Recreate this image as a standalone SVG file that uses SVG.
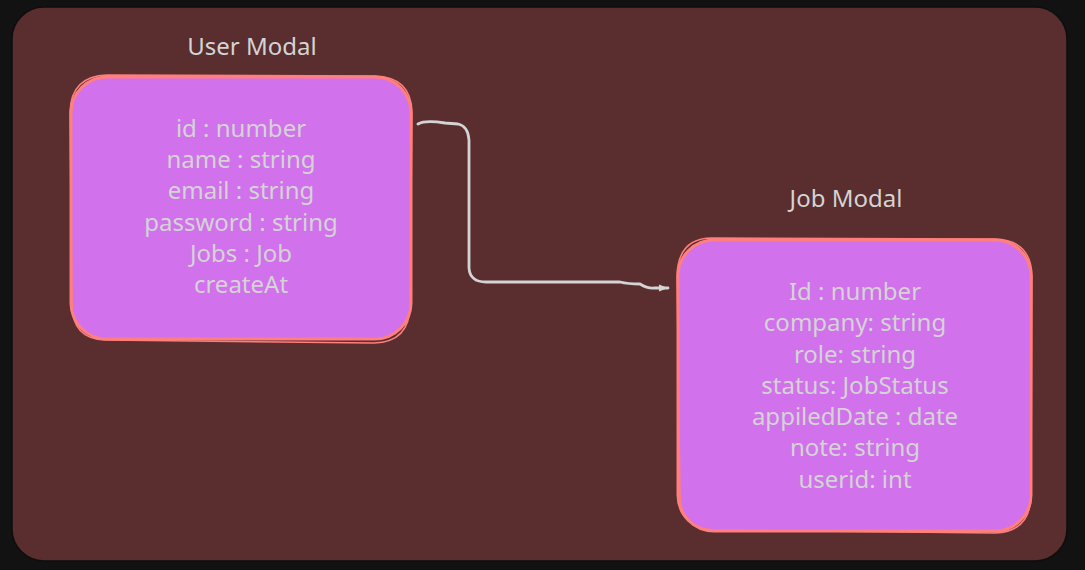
<svg xmlns="http://www.w3.org/2000/svg" width="1085" height="570" viewBox="0 0 1085 570">
<style>
.t{font-family:"Noto Sans","Open Sans",sans-serif;font-size:24px;fill:#d4d4d4;text-anchor:middle}
.box{fill:#d171ec;stroke:#ff7f7f;stroke-width:3}
.box2{fill:none;stroke:#ff7f7f;stroke-width:1.5}
.conn{fill:none;stroke:#d4d4d4;stroke-width:2.8;stroke-linecap:round;stroke-linejoin:round}
</style>
<defs>
<marker id="arr" markerWidth="10" markerHeight="8" refX="9" refY="4" orient="auto" markerUnits="userSpaceOnUse">
<path d="M0,0.5 L9,4 L0,7.5 Z" fill="#d4d4d4"/>
</marker>
</defs>
<rect x="0" y="0" width="1085" height="570" fill="#121212"/>
<g id="container">
<rect x="12" y="7" width="1055" height="554" rx="32" fill="#5a2d2e" stroke="#0e0e0e" stroke-width="1.5"/>
</g>
<g id="user-modal">
<text class="t" x="252" y="55">User Modal</text>
<rect class="box" x="71" y="77" width="340" height="262" rx="36"/>
<path class="box2" d="M107,75 L375,76 Q411,77 412,112 L410,305 Q410,342 374,343 L105,340 Q72,339 72,304 L70,112 Q71,76 107,75 Z"/>
<text class="t" x="241" y="137">id : number</text>
<text class="t" x="241" y="168">name : string</text>
<text class="t" x="241" y="199">email : string</text>
<text class="t" x="241" y="231">password : string</text>
<text class="t" x="241" y="262">Jobs : Job</text>
<text class="t" x="241" y="293">createAt</text>
</g>
<g id="job-modal">
<text class="t" x="846" y="207">Job Modal</text>
<rect class="box" x="678" y="240" width="353" height="291" rx="36"/>
<path class="box2" d="M712,238 L995,239 Q1031,240 1032,276 L1031,496 Q1030,532 995,533 L716,530 Q680,529 680,494 L677,276 Q678,238 712,238 Z"/>
<text class="t" x="855" y="300">Id : number</text>
<text class="t" x="855" y="331">company: string</text>
<text class="t" x="855" y="363">role: string</text>
<text class="t" x="855" y="394">status: JobStatus</text>
<text class="t" x="855" y="425">appiledDate : date</text>
<text class="t" x="855" y="456">note: string</text>
<text class="t" x="855" y="488">userid: int</text>
</g>
<g id="connectors">
<path class="conn" d="M418,124 Q425,120 445,123 L458,124 Q468,126 469,140 L469,268 Q470,282 486,282 L620,282 Q628,284 640,284 Q648,289 655,288 L668,288" marker-end="url(#arr)"/>
</g>
</svg>
